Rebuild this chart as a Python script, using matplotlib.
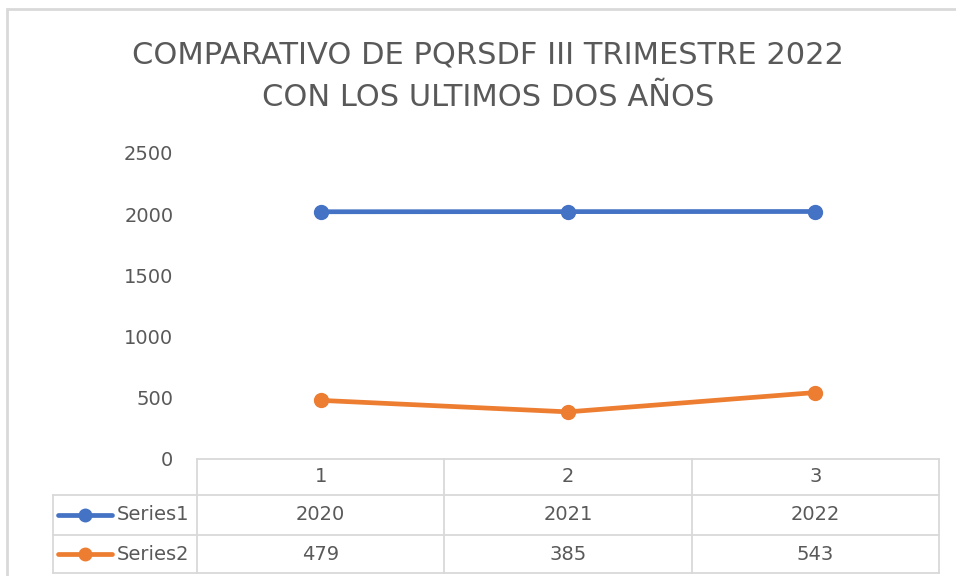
import matplotlib
matplotlib.use("Agg")
import matplotlib.pyplot as plt
from matplotlib.lines import Line2D
from matplotlib.patches import Rectangle
from matplotlib.transforms import blended_transform_factory

categories = [1, 2, 3]
series_names = ["Series1", "Series2"]
series1 = [2020, 2021, 2022]
series2 = [479, 385, 543]
colors = ["#4472C4", "#ED7D31"]
title = "COMPARATIVO DE PQRSDF III TRIMESTRE 2022\nCON LOS ULTIMOS DOS AÑOS"

plt.rcParams['font.family'] = ['DejaVu Sans']
text_col = "#595959"
grid_col = "#D9D9D9"

W, H = 956, 576
fig = plt.figure(figsize=(W / 100, H / 100), dpi=100)


def fx(px):
    return px / W


def fy(py):
    return 1 - py / H


# outer chart border (cropped on the right/bottom)
fig.add_artist(Rectangle((fx(7), fy(H + 10)), fx(W + 20), fy(9) - fy(H + 10),
                         transform=fig.transFigure, fill=False,
                         edgecolor=grid_col, lw=2))

ax = fig.add_axes([fx(197), fy(459), fx(939) - fx(197), fy(153) - fy(459)])
for s, vals in enumerate([series1, series2]):
    ax.plot(categories, vals, color=colors[s], lw=3.4, marker="o",
            markersize=10, solid_capstyle="round")
ax.set_xlim(0.5, 3.5)
ax.set_ylim(0, 2500)
ax.set_yticks(range(0, 2501, 500))
ax.set_xticks([])
for sp in ax.spines.values():
    sp.set_visible(False)
ax.tick_params(axis="y", length=0, pad=17, labelsize=14, labelcolor=text_col)

fig.text(fx(488), fy(76), title, ha="center", va="center", fontsize=22,
         color=text_col, linespacing=1.6)

# data table below the plot
row_edges = [459, 495, 535, 573]
left_edge, col_edge, right_edge = 53, 197, 939
lw_tab = 1.3
tr = fig.transFigure
# horizontal lines
fig.add_artist(Line2D([fx(col_edge), fx(right_edge)], [fy(row_edges[0])] * 2,
                      transform=tr, color=grid_col, lw=lw_tab))
for r in row_edges[1:]:
    fig.add_artist(Line2D([fx(left_edge), fx(right_edge)], [fy(r)] * 2,
                          transform=tr, color=grid_col, lw=lw_tab))
# vertical lines
bt = blended_transform_factory(ax.transData, tr)
for xb in [0.5, 1.5, 2.5, 3.5]:
    fig.add_artist(Line2D([xb, xb], [fy(row_edges[0]), fy(row_edges[-1])],
                          transform=bt, color=grid_col, lw=lw_tab))
fig.add_artist(Line2D([fx(left_edge)] * 2, [fy(row_edges[1]), fy(row_edges[-1])],
                      transform=tr, color=grid_col, lw=lw_tab))

# header row
yc = fy((row_edges[0] + row_edges[1]) / 2)
for c in categories:
    fig.text(c, yc, str(c), transform=bt, ha="center", va="center",
             fontsize=14, color=text_col)

# series rows
for s, vals in enumerate([series1, series2]):
    yc = fy((row_edges[s + 1] + row_edges[s + 2]) / 2)
    fig.add_artist(Line2D([fx(58), fx(112)], [yc, yc], transform=tr,
                          color=colors[s], lw=3.4, solid_capstyle="round"))
    fig.add_artist(Line2D([fx(85)], [yc], transform=tr, color=colors[s],
                          marker="o", markersize=9))
    fig.text(fx(117), yc, series_names[s], ha="left", va="center",
             fontsize=14, color=text_col)
    for c, v in zip(categories, vals):
        fig.text(c, yc, str(v), transform=bt, ha="center", va="center",
                 fontsize=14, color=text_col)

fig.savefig("out.png", dpi=100)
